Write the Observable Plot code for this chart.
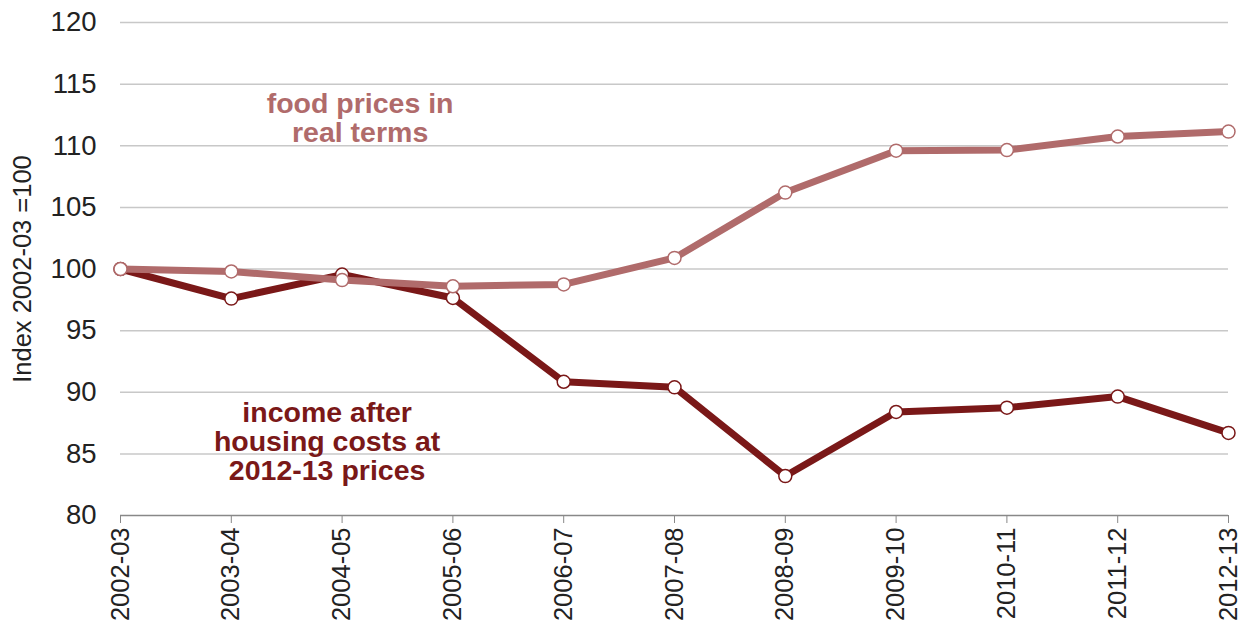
<!DOCTYPE html>
<html>
<head>
<meta charset="utf-8">
<script src="https://cdn.jsdelivr.net/npm/d3@7"></script>
<script src="https://cdn.jsdelivr.net/npm/@observablehq/plot@0.6"></script>
<style>
  html, body { margin: 0; padding: 0; background: #fff; }
  #chart svg { display: block; }
</style>
</head>
<body>
<div id="chart"></div>
<script>
const years = ["2002-03","2003-04","2004-05","2005-06","2006-07","2007-08","2008-09","2009-10","2010-11","2011-12","2012-13"];
const foodPrices = [100, 99.8, 99.1, 98.6, 98.75, 100.9, 106.2, 109.6, 109.65, 110.75, 111.15];
const incomeAHC = [100, 97.6, 99.55, 97.65, 90.85, 90.4, 83.2, 88.4, 88.75, 89.65, 86.7];
const yTicks = [80, 85, 90, 95, 100, 105, 110, 115, 120];
const gridTicks = [85, 90, 95, 100, 105, 110, 115, 120];

const foodColor = "#b06b6b";
const incomeColor = "#7a1818";

const food = years.map((y, i) => ({year: y, value: foodPrices[i]}));
const income = years.map((y, i) => ({year: y, value: incomeAHC[i]}));

const foodLabel = [{year: "2004-05", value: 112.2, text: "food prices in\nreal terms"}];
const incomeLabel = [{year: "2004-05", value: 86.0, text: "income after\nhousing costs at\n2012-13 prices"}];

const chart = Plot.plot({
  width: 1245,
  height: 625,
  marginLeft: 120,
  marginRight: 17,
  marginTop: 22,
  marginBottom: 110,
  style: {fontFamily: "'Liberation Sans', Arial, sans-serif", color: "#222", background: "#fff"},
  x: {type: "point", domain: years, padding: 0, round: false},
  y: {domain: [80, 120]},
  marks: [
    Plot.ruleY(gridTicks, {stroke: "#c8c8c8", strokeWidth: 1.5}),
    Plot.ruleY([80], {stroke: "#888", strokeWidth: 1.5}),
    Plot.axisY({ticks: yTicks, tickSize: 0, tickPadding: 24, fontSize: 27.5, label: null}),
    Plot.text(["Index 2002-03 =100"], {frameAnchor: "left", dx: -98, rotate: -90, fontSize: 25.5, fill: "#222", textAnchor: "middle"}),
    Plot.axisX({tickRotate: -90, tickSize: 8, tickPadding: 4, fontSize: 25.5, stroke: "#888", label: null}),
    Plot.line(income, {x: "year", y: "value", stroke: incomeColor, strokeWidth: 7, strokeLinejoin: "miter"}),
    Plot.dot(income, {x: "year", y: "value", r: 6.5, fill: "white", stroke: incomeColor, strokeWidth: 1.5}),
    Plot.line(food, {x: "year", y: "value", stroke: foodColor, strokeWidth: 7, strokeLinejoin: "miter"}),
    Plot.dot(food, {x: "year", y: "value", r: 6.5, fill: "white", stroke: foodColor, strokeWidth: 1.5}),
    Plot.text(foodLabel, {x: "year", y: "value", text: "text", fill: foodColor, dx: 18,
      fontSize: 28.5, fontWeight: "bold", lineHeight: 1.02, textAnchor: "middle"}),
    Plot.text(incomeLabel, {x: "year", y: "value", text: "text", fill: incomeColor, dx: -15,
      fontSize: 28.5, fontWeight: "bold", lineHeight: 1.02, textAnchor: "middle"})
  ]
});
document.getElementById("chart").appendChild(chart);
</script>
</body>
</html>
